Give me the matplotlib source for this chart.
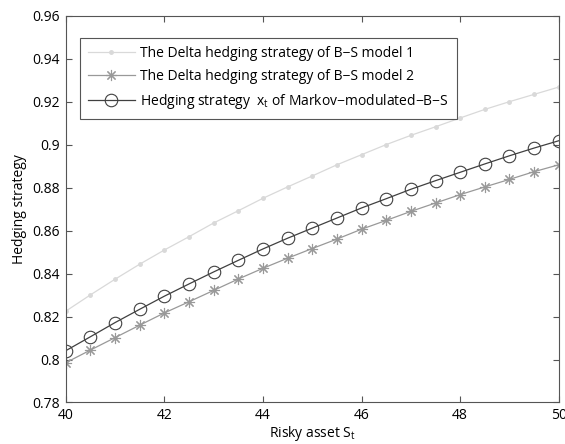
import numpy as np
import matplotlib
matplotlib.use('Agg')
import matplotlib.pyplot as plt

plt.rcParams['font.family'] = ['Open Sans', 'DejaVu Sans']
plt.rcParams['mathtext.fontset'] = 'custom'
plt.rcParams['mathtext.rm'] = 'Open Sans'
plt.rcParams['mathtext.it'] = 'Open Sans'

# risky asset price
s_t = [40, 40.5, 41, 41.5, 42, 42.5, 43, 43.5, 44, 44.5, 45,
       45.5, 46, 46.5, 47, 47.5, 48, 48.5, 49, 49.5, 50]

# delta hedging B-S model 1
bs_model1 = [0.8225, 0.8301, 0.8374, 0.8444, 0.8510, 0.8572, 0.8636, 0.8693,
             0.8751, 0.8804, 0.8855, 0.8907, 0.8954, 0.9001, 0.9044, 0.9084,
             0.9125, 0.9165, 0.9201, 0.9235, 0.9269]

# delta hedging B-S model 2
bs_model2 = [0.7985, 0.8044, 0.8102, 0.8160, 0.8217, 0.8269, 0.8322, 0.8375,
             0.8425, 0.8472, 0.8517, 0.8561, 0.8607, 0.8648, 0.8690, 0.8729,
             0.8768, 0.8804, 0.8839, 0.8875, 0.8907]

# Markov-modulated B-S
markov_bs = [0.8041, 0.8106, 0.8172, 0.8234, 0.8295, 0.8352, 0.8408, 0.8462,
             0.8515, 0.8565, 0.8612, 0.8659, 0.8706, 0.8749, 0.8793, 0.8833,
             0.8872, 0.8911, 0.8949, 0.8985, 0.9019]

labels = ['The Delta hedging strategy of B\u2212S model 1',
          'The Delta hedging strategy of B\u2212S model 2',
          'Hedging strategy  x$_{t}$ of Markov\u2212modulated\u2212B\u2212S']

fig = plt.figure(figsize=(5.65, 4.44), dpi=100)
ax = fig.add_axes([0.1163, 0.0935, 0.8727, 0.8705])

ax.plot(s_t, bs_model1, color='#d9d9d9', lw=0.9, marker='.', markersize=5,
        label=labels[0])
ax.plot(s_t, bs_model2, color='#999999', lw=0.9, marker=(8, 2, 0), markersize=8,
        markeredgewidth=0.8, label=labels[1])
ax.plot(s_t, markov_bs, color='#404040', lw=0.9, marker='o', markersize=9,
        markerfacecolor='none', markeredgewidth=0.8, label=labels[2])

ax.set_xlim(40, 50)
ax.set_ylim(0.78, 0.96)
ax.set_xticks([40, 42, 44, 46, 48, 50])
ax.set_yticks(np.arange(0.78, 0.961, 0.02))
ax.set_yticklabels(['0.78', '0.8', '0.82', '0.84', '0.86', '0.88', '0.9',
                    '0.92', '0.94', '0.96'])
ax.tick_params(direction='in', top=True, right=True, labelsize=10,
               color='#555555', length=4, width=0.8, pad=4)
for sp in ax.spines.values():
    sp.set_color('#555555')
    sp.set_linewidth(0.8)

ax.set_xlabel('Risky asset S$_{t}$', fontsize=10, labelpad=1)
ax.set_ylabel('Hedging strategy', fontsize=10, labelpad=4)

leg = ax.legend(loc='upper left', bbox_to_anchor=(0.029, 0.943), fontsize=10,
                fancybox=False, edgecolor='#555555', framealpha=1,
                handlelength=3.4, borderpad=0.55, labelspacing=0.6,
                borderaxespad=0, handletextpad=0.4)
leg.get_frame().set_linewidth(0.8)

plt.savefig('out.png', dpi=100)
